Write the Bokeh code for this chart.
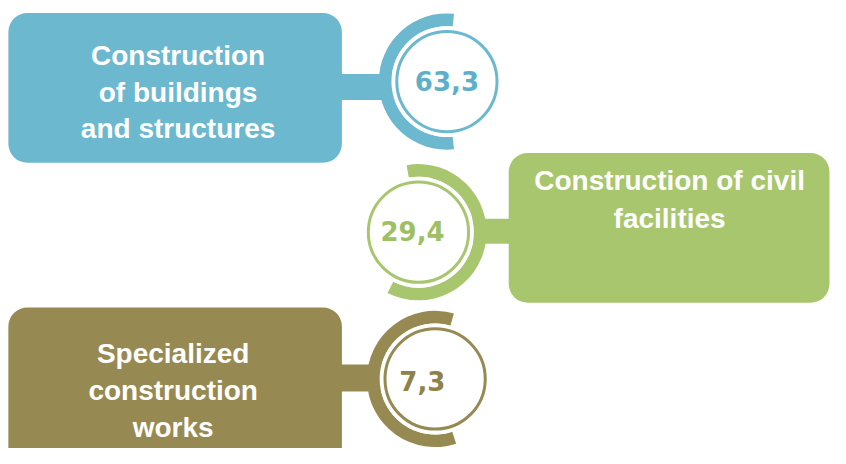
from bokeh.plotting import figure
from bokeh.models import Range1d
from bokeh.core.properties import value
from bokeh.embed import file_html
from bokeh.resources import INLINE
import math

# ---- data ----
categories = ["Construction\nof buildings\nand structures",
              "Construction of civil\nfacilities",
              "Specialized\nconstruction\nworks"]
shares = [63.3, 29.4, 7.3]
colors = ["#6CB8CF", "#A8C66E", "#968A52"]
num_colors = ["#5DB0CB", "#9EC062", "#8E8249"]

# ---- layout (reference pixel coordinates, 846 x 464) ----
W, H = 846, 464
PW, PH = 830, 448
S = (PW / W + PH / H) / 2  # screen scale for radii / fonts
TXT_SHIFT = 7     # bokeh places 'alphabetic' a little lower; compensate
NUM_SHIFT = 6.5

def Y(yp):
    return H - yp

box_l = [8, 518, 8]
box_r = [348, 845, 348]
box_t = [13, 158, 318]
box_b = [168, 313, 490]
bar_t = [76, 226, 377]
bar_b = [103, 252, 405]
ring_x = [455, 426, 443]
ring_y = [84, 240, 392]
arc_start = [84, 243, 74]
arc_end = [276, 100, 288]
txt_x = [181, 682, 176]
txt_y0 = [64, 193, 373]
txt_step = [38, 40, 38]
num_x = [455, 420, 430]
num_y = [90, 245, 401]

p = figure(width=PW, height=PH, output_backend="svg", toolbar_location=None,
           x_range=Range1d(0, W), y_range=Range1d(0, H), min_border=0)
p.axis.visible = False
p.grid.visible = False
p.outline_line_color = None
p.background_fill_color = "white"
p.border_fill_color = "white"

# boxes
p.quad(left=box_l, right=box_r, top=[Y(t) for t in box_t], bottom=[Y(b) for b in box_b],
       fill_color=colors, line_color=None, border_radius=19)

# connector bars (box edge to ring centre)
bl, br = [], []
for i in range(3):
    if box_r[i] < ring_x[i]:
        bl.append(box_r[i] - 5); br.append(ring_x[i])
    else:
        bl.append(ring_x[i]); br.append(box_l[i] + 5)
p.quad(left=bl, right=br, top=[Y(t) for t in bar_t], bottom=[Y(b) for b in bar_b],
       fill_color=colors, line_color=None)

ry = [Y(v) for v in ring_y]
# thick arcs
p.annular_wedge(x=ring_x, y=ry, inner_radius=57 * S, outer_radius=70 * S,
                inner_radius_units="screen", outer_radius_units="screen",
                start_angle=[math.radians(a) for a in arc_start],
                end_angle=[math.radians(a) for a in arc_end], direction="anticlock",
                fill_color=colors, line_color=None)

# white disk inside and thin circle
p.circle(x=ring_x, y=ry, radius=57 * S, radius_units="screen",
         fill_color="white", line_color=None)
p.circle(x=ring_x, y=ry, radius=51.5 * S, radius_units="screen",
         fill_color="white", line_color=colors, line_width=3)

# category texts
tx, ty, tt = [], [], []
for i, lab in enumerate(categories):
    for j, line in enumerate(lab.split("\n")):
        tx.append(txt_x[i])
        ty.append(Y(txt_y0[i] + j * txt_step[i] - TXT_SHIFT))
        tt.append(line)
p.text(x=tx, y=ty, text=tt, text_color="white", text_font=value("Liberation Sans"),
       text_font_style="bold", text_font_size="28px", text_align="center",
       text_baseline="alphabetic")

# values
labels = [f"{v:.1f}".replace(".", ",") for v in shares]
p.text(x=num_x, y=[Y(v - NUM_SHIFT) for v in num_y], text=labels, text_color=num_colors,
       text_font=value("DejaVu Sans"), text_font_style="bold", text_font_size="26px",
       text_align="center", text_baseline="alphabetic")

open("out.html", "w").write(file_html(p, INLINE))
